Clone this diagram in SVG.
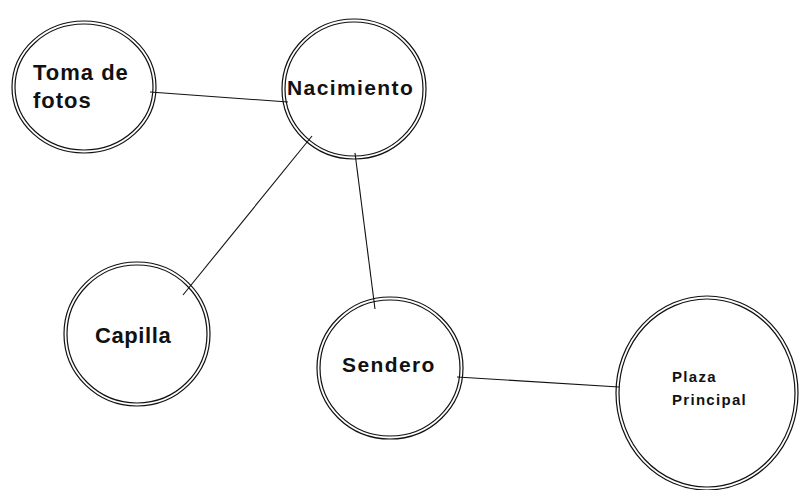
<svg xmlns="http://www.w3.org/2000/svg" width="799" height="490" viewBox="0 0 799 490">
<style>
.o{fill:none;stroke:#111;stroke-width:1.2}
.t{font-family:"Liberation Sans",Arial,sans-serif;font-weight:bold;fill:#111}
.c line{stroke:#111;stroke-width:1.1}
</style>
<rect width="799" height="490" fill="#fff"/>
<g class="c" id="connectors">
<line x1="150" y1="92" x2="288" y2="102"/>
<line x1="312" y1="136" x2="183" y2="295"/>
<line x1="355" y1="153" x2="375" y2="309"/>
<line x1="457" y1="377" x2="619" y2="387"/>
</g>
<g id="toma">
<ellipse class="o" cx="84" cy="87" rx="72" ry="66"/>
<ellipse class="o" cx="84" cy="87" rx="69" ry="63"/>
<text class="t" x="33" y="80" font-size="22" letter-spacing="1">Toma de</text>
<text class="t" x="33" y="108" font-size="22" letter-spacing="1">fotos</text>
</g>
<g id="nacimiento">
<ellipse class="o" cx="354" cy="89" rx="72" ry="70"/>
<ellipse class="o" cx="354" cy="89" rx="69" ry="67"/>
<text class="t" x="287" y="95" font-size="21" letter-spacing="1.4">Nacimiento</text>
</g>
<g id="capilla">
<ellipse class="o" cx="137" cy="334" rx="73" ry="72"/>
<ellipse class="o" cx="137" cy="334" rx="70" ry="69"/>
<text class="t" x="95" y="343" font-size="22" letter-spacing="0.6">Capilla</text>
</g>
<g id="sendero">
<ellipse class="o" cx="390" cy="368" rx="73" ry="71"/>
<ellipse class="o" cx="390" cy="368" rx="70" ry="68"/>
<text class="t" x="342" y="372" font-size="21" letter-spacing="1.4">Sendero</text>
</g>
<g id="plaza">
<ellipse class="o" cx="707" cy="393" rx="91" ry="97"/>
<ellipse class="o" cx="707" cy="393" rx="88" ry="94"/>
<text class="t" x="672" y="382" font-size="15" letter-spacing="1.3">Plaza</text>
<text class="t" x="672" y="405" font-size="15" letter-spacing="1.3">Principal</text>
</g>
</svg>
